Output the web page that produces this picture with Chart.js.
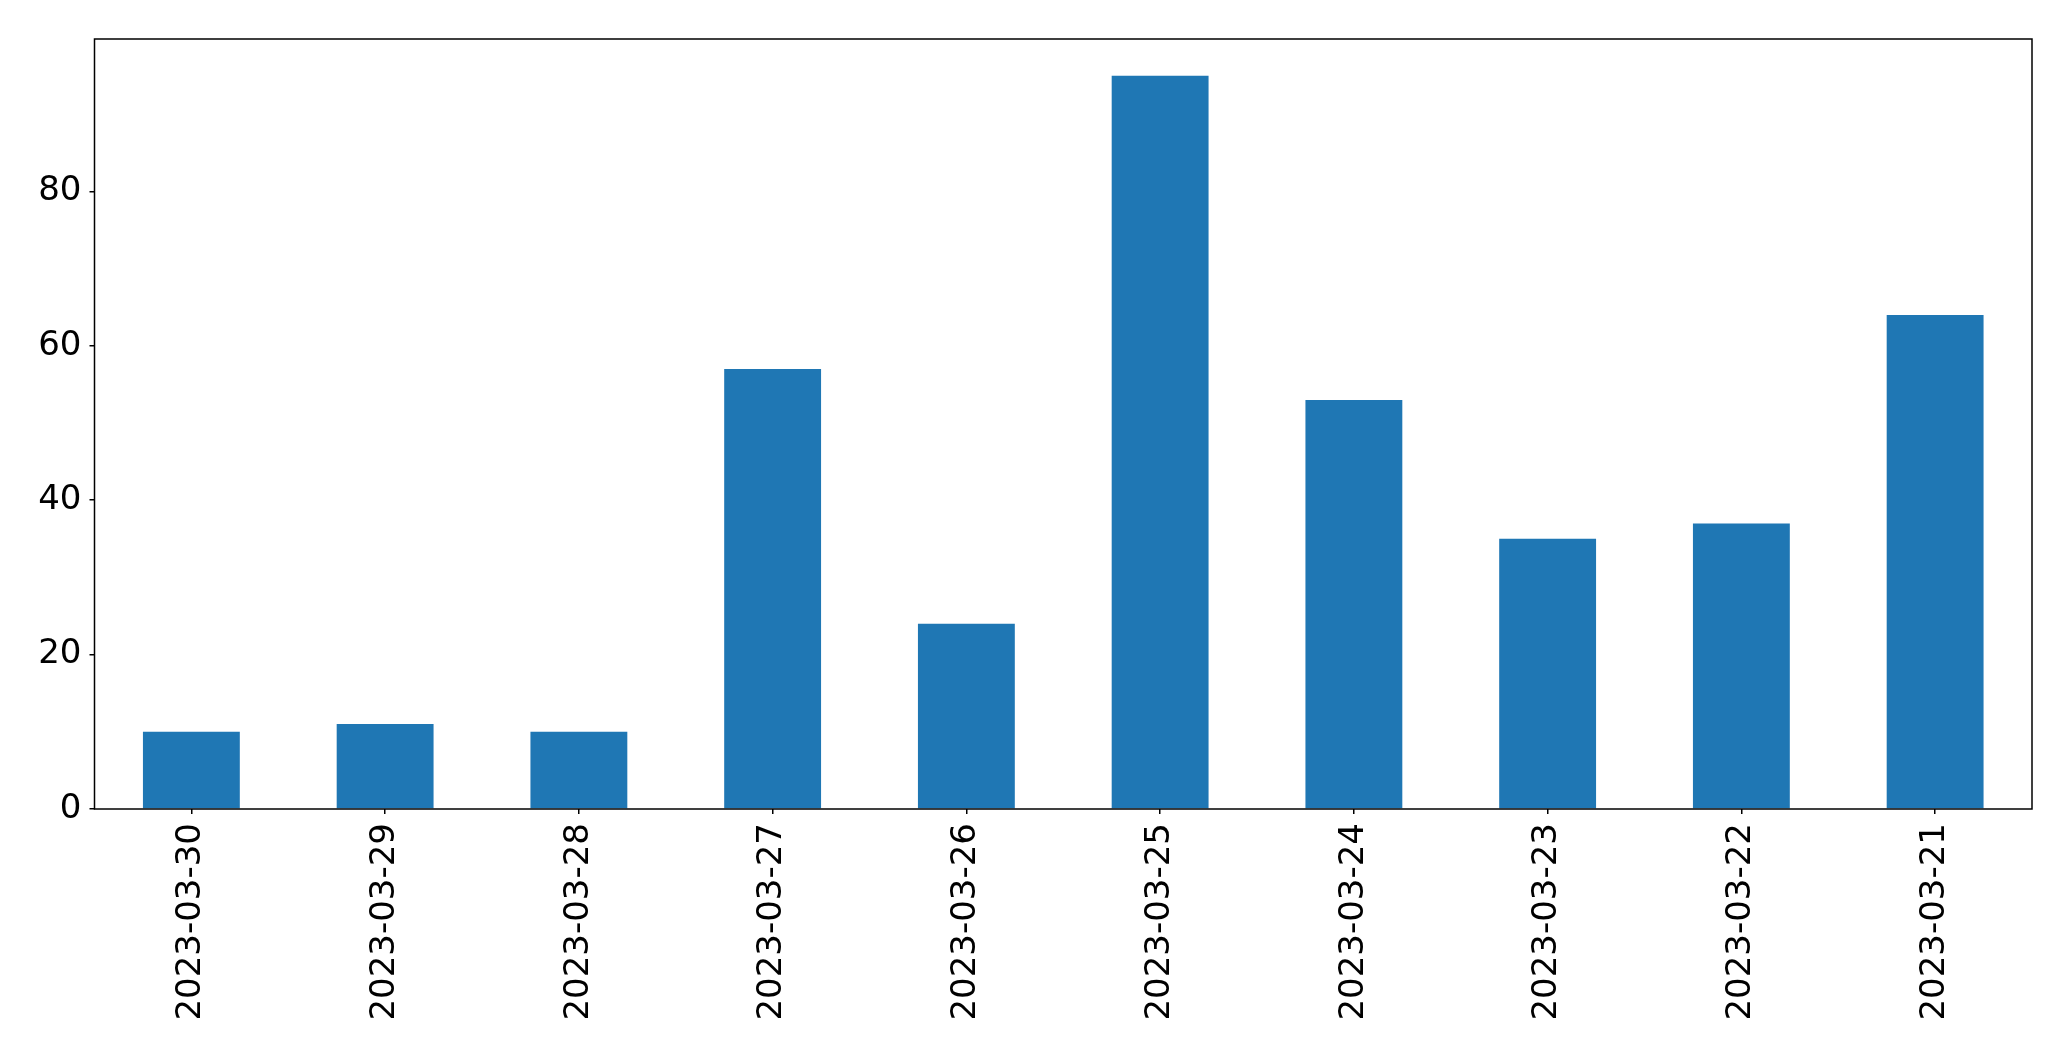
<!DOCTYPE html>
<html>
<head>
<meta charset="utf-8">
<script src="https://cdn.jsdelivr.net/npm/chart.js@4"></script>
<style>
  html, body { margin: 0; padding: 0; background: #fff; }
  canvas { display: block; }
</style>
</head>
<body>
<canvas id="barChart" width="2071" height="1061"></canvas>
<script>
// data
const dates = ['2023-03-30', '2023-03-29', '2023-03-28', '2023-03-27', '2023-03-26',
               '2023-03-25', '2023-03-24', '2023-03-23', '2023-03-22', '2023-03-21'];
const counts = [10, 11, 10, 57, 24, 95, 53, 35, 37, 64];
const yTicks = [0, 20, 40, 60, 80];

const font = { family: 'DejaVu Sans', size: 34 };

// draws the box around the plot area, like matplotlib's spines
const frame = {
  id: 'frame',
  afterDraw(chart) {
    const { ctx, chartArea: a } = chart;
    ctx.save();
    ctx.strokeStyle = '#000';
    ctx.lineWidth = 1.5;
    ctx.strokeRect(a.left, a.top, a.right - a.left, a.bottom - a.top);
    ctx.restore();
  }
};

const ctx = document.getElementById('barChart').getContext('2d');
const chart = new Chart(ctx, {
  type: 'bar',
  data: {
    labels: dates,
    datasets: [{
      data: counts,
      backgroundColor: '#1f77b4',
      barPercentage: 0.5,
      categoryPercentage: 1.0
    }]
  },
  options: {
    responsive: false,
    animation: false,
    layout: { padding: { top: 39, right: 39, left: 0, bottom: 0 } },
    plugins: { legend: { display: false }, tooltip: { enabled: false } },
    scales: {
      x: {
        offset: true,
        grid: { display: true, offset: false, drawOnChartArea: false, drawTicks: true, tickLength: 5, color: '#000', lineWidth: 1.5 },
        border: { display: false },
        ticks: { font, color: '#000', minRotation: 90, maxRotation: 90, padding: 9, autoSkip: false },
        afterFit(scale) { scale.height = 1061 - 809; }
      },
      y: {
        min: 0,
        max: 99.75,
        grid: { display: true, drawOnChartArea: false, drawTicks: true, tickLength: 5, color: '#000', lineWidth: 1.5 },
        border: { display: false },
        afterBuildTicks(scale) { scale.ticks = yTicks.map(v => ({ value: v })); },
        ticks: { font, color: '#000', padding: 8, includeBounds: false },
        afterFit(scale) { scale.width = 94.5; }
      }
    }
  },
  plugins: [frame]
});
</script>
</body>
</html>
